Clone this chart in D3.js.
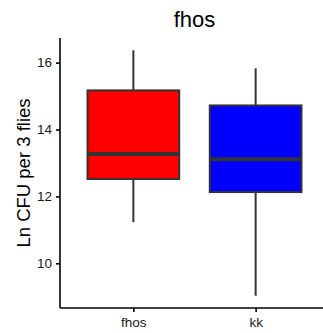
<!DOCTYPE html>
<html>
<head>
<meta charset="utf-8">
<script src="https://cdn.jsdelivr.net/npm/d3@7"></script>
<style>
  body { margin: 0; background: #fff; }
  svg { display: block; font-family: "Liberation Sans", Arial, sans-serif; }
</style>
</head>
<body>
<svg id="chart" width="323" height="333"></svg>
<script>
// --- data (Ln CFU per 3 flies) ---
const groups = ["fhos", "kk"];
const whiskerLow = [11.23, 9.03];
const q1 = [12.52, 12.13];
const medians = [13.27, 13.11];
const q3 = [15.17, 14.72];
const whiskerHigh = [16.37, 15.83];
const fills = ["#ff0000", "#0000ff"];
const yTicks = [10, 12, 14, 16];

const svg = d3.select("#chart");

// panel edges (the right side runs past the window, like the original crop)
const panelLeft = 60, panelTop = 38, panelBottom = 308, panelRight = 329;

// ggplot-style discrete axis: 0.6 units of padding each side
const x = d3.scaleLinear().domain([-0.6, groups.length - 1 + 0.6]).range([panelLeft, panelRight]);
const yMin = 8.663, yMax = 16.737;
const y = d3.scaleLinear().domain([yMin, yMax]).range([panelBottom, panelTop]);

const boxW = (x(1) - x(0)) * 0.75;

// boxes
const box = svg.append("g").selectAll("g")
    .data(groups)
    .enter()
    .append("g");

// whiskers
box.append("line")
    .attr("x1", function (d, i) { return x(i); })
    .attr("x2", function (d, i) { return x(i); })
    .attr("y1", function (d, i) { return y(whiskerHigh[i]); })
    .attr("y2", function (d, i) { return y(q3[i]); })
    .attr("stroke", "#333333").attr("stroke-width", 2);
box.append("line")
    .attr("x1", function (d, i) { return x(i); })
    .attr("x2", function (d, i) { return x(i); })
    .attr("y1", function (d, i) { return y(q1[i]); })
    .attr("y2", function (d, i) { return y(whiskerLow[i]); })
    .attr("stroke", "#333333").attr("stroke-width", 2);

box.append("rect")
    .attr("x", function (d, i) { return x(i) - boxW / 2; })
    .attr("width", boxW)
    .attr("y", function (d, i) { return y(q3[i]); })
    .attr("height", function (d, i) { return y(q1[i]) - y(q3[i]); })
    .attr("fill", function (d, i) { return fills[i]; })
    .attr("stroke", "#333333").attr("stroke-width", 2);

// median bar
box.append("line")
    .attr("x1", function (d, i) { return x(i) - boxW / 2; })
    .attr("x2", function (d, i) { return x(i) + boxW / 2; })
    .attr("y1", function (d, i) { return y(medians[i]); })
    .attr("y2", function (d, i) { return y(medians[i]); })
    .attr("stroke", "#333333").attr("stroke-width", 4);

// axes
const yAxis = svg.append("g")
    .attr("transform", "translate(" + panelLeft + ",0)")
    .call(d3.axisLeft(y).tickValues(yTicks).tickSize(4).tickPadding(4));
const xAxis = svg.append("g")
    .attr("transform", "translate(0," + panelBottom + ")")
    .call(d3.axisBottom(x).tickValues([0, 1]).tickFormat(function (i) { return groups[i]; })
        .tickSize(4).tickPadding(5));

[yAxis, xAxis].forEach(function (a) {
    a.select(".domain").attr("stroke", "#000").attr("stroke-width", 1.6);
    a.selectAll(".tick line").attr("stroke", "#000").attr("stroke-width", 1.6);
    a.selectAll(".tick text")
        .attr("fill", "#1a1a1a")
        .style("font-size", "13.5px")
        .style("font-family", "\"Liberation Sans\", Arial, sans-serif");
});
// remove the outer tick caps d3 draws on the domain path
yAxis.select(".domain").attr("d", "M0," + panelBottom + "V" + panelTop);
xAxis.select(".domain").attr("d", "M" + panelLeft + ",0H" + panelRight);

// title and axis label
svg.append("text")
    .attr("x", (panelLeft + panelRight) / 2)
    .attr("y", 27)
    .attr("text-anchor", "middle")
    .style("font-size", "22px")
    .attr("fill", "#000")
    .text("fhos");

svg.append("text")
    .attr("transform", "translate(29.5," + ((panelTop + panelBottom) / 2) + ") rotate(-90)")
    .attr("text-anchor", "middle")
    .style("font-size", "18.5px")
    .attr("fill", "#000")
    .text("Ln CFU per 3 flies");
</script>
</body>
</html>
